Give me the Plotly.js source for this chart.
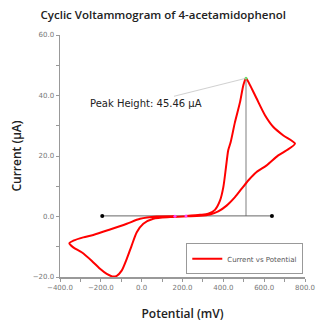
<!DOCTYPE html>
<html>
<head>
<meta charset="utf-8">
<script src="https://cdn.plot.ly/plotly-3.0.1.min.js"></script>
<style>html,body{margin:0;padding:0;background:#fff;}#chart{width:317px;height:322px;}</style>
</head>
<body>
<div id="chart"></div>
<script>
// Potential (mV) and current (µA), in scan order
const potential = [217, 286, 326, 359, 384, 400, 413, 424, 436, 457, 482, 498, 511,
  531, 563, 604, 645, 694, 751,
  710, 669, 612, 563, 522, 490, 457, 416, 375, 335, 286, 220, 139, 57, 8, -24, -49, -73, -98, -122, -144,
  -171, -204, -245, -294, -335, -354,
  -335, -286, -237, -155, -73, -8, 74, 163];
const current = [0.2, 0.56, 0.9, 2.2, 5.3, 9.7, 16.3, 21.9, 24.6, 31.2, 37.9, 43.4, 45.7,
  43.4, 39.0, 33.5, 29.6, 26.8, 24.1,
  21.9, 20.2, 16.9, 14.7, 11.9, 9.2, 6.4, 3.6, 1.7, 0.66, 0.23, 0.05, -0.2, -0.76, -2.4, -5.2, -9.6, -14.0, -17.9, -19.6, -19.8,
  -19.0, -17.3, -14.6, -11.8, -10.2, -8.8,
  -8.0, -6.9, -6.1, -4.3, -2.4, -0.76, 0.0, 0.1];
const baselineV = [-193, 638];
const baselineI = [0.2, 0.2];
const peakHeight = 45.46;
const xTickValues = [-400, -200, 0, 200, 400, 600, 800];
const yTickValues = [-20, 0, 20, 40, 60];

let pk = 0;
current.forEach((v, i) => { if (v > current[pk]) pk = i; });
const peakV = potential[pk], peakI = current[pk];

const traces = [
  {x: baselineV, y: baselineI, mode: 'lines+markers', showlegend: false, hoverinfo: 'skip',
   line: {color: '#666', width: 1}, marker: {color: '#000', size: 4}},
  {x: potential, y: current, mode: 'lines', name: 'Current vs Potential',
   line: {color: '#ff0000', width: 2, shape: 'spline', smoothing: 0.7}},
  {x: [potential[0], potential[potential.length - 1]], y: [current[0], current[current.length - 1]],
   mode: 'markers', showlegend: false, marker: {color: '#ff44ff', size: 3}},
  {x: [peakV], y: [peakI], mode: 'markers', showlegend: false, marker: {color: '#66dd66', size: 3}}
];

const axisCommon = {
  showgrid: false, zeroline: false, showline: true, linecolor: '#999', linewidth: 1.5,
  ticks: 'outside', ticklen: 3, tickcolor: '#999', tickwidth: 1,
  tickfont: {family: 'DejaVu Sans', size: 7, color: '#777'}, tickformat: '.1f',
  mirror: false
};

const layout = {
  width: 317, height: 322,
  margin: {l: 60, r: 12, t: 35, b: 45},
  paper_bgcolor: '#fff', plot_bgcolor: '#fff',
  title: {text: 'Cyclic Voltammogram of 4-acetamidophenol', x: 0.515, xanchor: 'center', y: 0.955, yanchor: 'middle',
    font: {family: 'Open Sans', size: 11.5, color: '#222', weight: 600}},
  xaxis: Object.assign({}, axisCommon, {
    range: [-400, 800], tickvals: xTickValues,
    minor: {ticks: 'outside', dtick: 100, ticklen: 3, tickcolor: '#999'},
    title: {text: 'Potential (mV)', standoff: 20, font: {family: 'Open Sans', size: 12, color: '#222', weight: 600}}
  }),
  yaxis: Object.assign({}, axisCommon, {
    range: [-20, 60], tickvals: yTickValues,
    minor: {ticks: 'outside', dtick: 10, ticklen: 3, tickcolor: '#999'},
    title: {text: 'Current (µA)', standoff: 8, font: {family: 'Open Sans', size: 12, color: '#222', weight: 600}}
  }),
  showlegend: true,
  legend: {x: 0.993, xanchor: 'right', y: 0.139, yanchor: 'top', bordercolor: '#999', borderwidth: 1,
    font: {family: 'DejaVu Sans', size: 7, color: '#555'}, bgcolor: '#fff', itemwidth: 30},
  shapes: [
    {type: 'line', xref: 'x', yref: 'y', x0: peakV, x1: peakV, y0: baselineI[0], y1: peakI,
     line: {color: '#aaa', width: 1.5}, layer: 'below'}
  ],
  annotations: [
    {x: peakV, y: peakI, xref: 'x', yref: 'y', text: 'Peak Height: ' + peakHeight.toFixed(2) + ' µA',
     showarrow: true, arrowhead: 0, arrowwidth: 0.7, arrowcolor: '#bbb', ax: -100, ay: 25,
     font: {family: 'DejaVu Sans', size: 10, color: '#222'}}
  ]
};

Plotly.newPlot('chart', traces, layout, {displayModeBar: false, staticPlot: true});
</script>
</body>
</html>
